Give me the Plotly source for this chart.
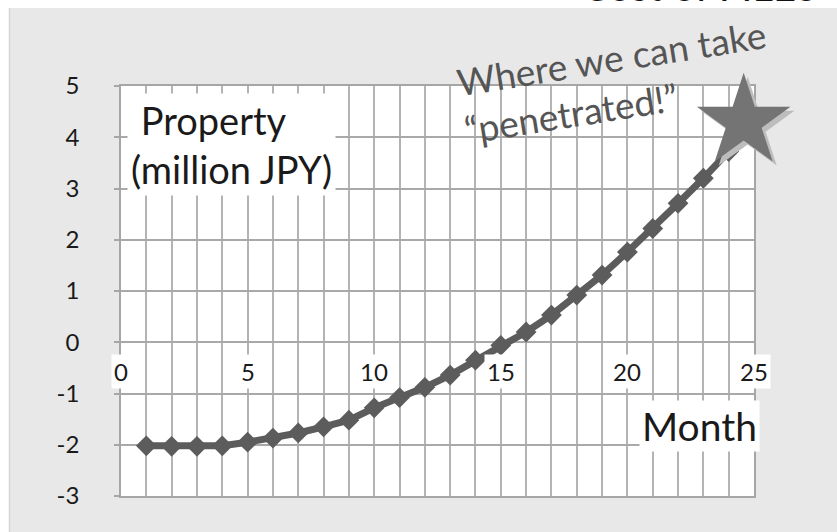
import plotly.graph_objects as go

months = list(range(1, 25))
property_mjpy = [-2.02, -2.03, -2.03, -2.02, -1.95, -1.87, -1.77, -1.65, -1.52, -1.28,
                 -1.08, -0.88, -0.64, -0.35, -0.06, 0.20, 0.53, 0.92, 1.31, 1.76,
                 2.22, 2.71, 3.20, 3.72]
x_tick_vals = [0, 5, 10, 15, 20, 25]
y_tick_vals = [-3, -2, -1, 0, 1, 2, 3, 4, 5]
y_tick_text = ["-3", "-2", "-1", "0", "1", "2", "3", "4", "5"]

FONT = "Lato"
W, H = 837, 532
L, R, T, B = 121, 83, 86, 36
pw, ph = W - L - R, H - T - B


def px_x(p):
    return (p - L) / pw


def px_y(p):
    return (H - B - p) / ph


fig = go.Figure()
fig.add_trace(go.Scatter(
    x=months, y=property_mjpy, mode="lines+markers",
    line=dict(color="#5c5c5c", width=7),
    marker=dict(symbol="diamond", size=16, color="#5c5c5c"),
    showlegend=False, cliponaxis=False, hoverinfo="skip",
))

annotations = []
for v in x_tick_vals:
    annotations.append(dict(
        x=v, y=0, xref="x", yref="y", text=str(v), showarrow=False,
        yshift=-29, font=dict(family=FONT, size=24, color="#1a1a1a"),
        bgcolor="white", borderpad=2,
    ))

annotations += [
    dict(x=px_x(127), y=px_y(93), xref="paper", yref="paper",
         xanchor="left", yanchor="top", align="left",
         text="&nbsp;Property<br>(million JPY)", showarrow=False,
         font=dict(family=FONT, size=38, color="#1a1a1a"),
         bgcolor="white", borderpad=3),
    dict(x=px_x(639), y=px_y(400), xref="paper", yref="paper",
         xanchor="left", yanchor="top", text="Month", showarrow=False,
         font=dict(family=FONT, size=39, color="#1a1a1a"),
         bgcolor="white", borderpad=2),
    dict(x=px_x(615), y=px_y(81), xref="paper", yref="paper",
         xanchor="center", yanchor="middle", align="left", textangle=-9,
         text="Where we can take<br>\u201cpenetrated!\u201d", showarrow=False,
         font=dict(family=FONT, size=37, color="#555555")),
    dict(x=months[-1], y=property_mjpy[-1], xref="x", yref="y",
         text="\u2605", showarrow=False, xshift=19, yshift=29,
         font=dict(family="DejaVu Sans", size=122, color="#bdbdbd")),
    dict(x=months[-1], y=property_mjpy[-1], xref="x", yref="y",
         text="\u2605", showarrow=False, xshift=15, yshift=33,
         font=dict(family="DejaVu Sans", size=122, color="#747474")),
    dict(x=px_x(700), y=px_y(11.5), xref="paper", yref="paper",
         xanchor="center", yanchor="bottom", text="Cost of FILES", showarrow=False,
         font=dict(family=FONT, size=40, color="#111111")),
]

shapes = [
    dict(type="rect", xref="paper", yref="paper", x0=-0.5, x1=1.5,
         y0=px_y(8), y1=1.5, fillcolor="white", line=dict(width=0), layer="below"),
    dict(type="rect", xref="paper", yref="paper", x0=-0.5, x1=px_x(9),
         y0=-0.5, y1=1.5, fillcolor="white", line=dict(width=0), layer="below"),
    dict(type="line", xref="paper", yref="paper", x0=px_x(9.5), x1=px_x(9.5),
         y0=-0.5, y1=px_y(8), line=dict(color="#d6d6d6", width=1.5), layer="below"),
]

fig.update_layout(
    width=W, height=H,
    margin=dict(l=L, r=R, t=T, b=B),
    paper_bgcolor="#e8e8e8", plot_bgcolor="white",
    annotations=annotations, shapes=shapes,
    font=dict(family=FONT, color="#1a1a1a"),
)
fig.update_xaxes(
    range=[0, 25], dtick=1, showticklabels=False, ticks="",
    showgrid=True, gridcolor="#b4b4b4", gridwidth=1.6,
    showline=True, linecolor="#a6a6a6", linewidth=1.6, mirror=True,
    zeroline=False, fixedrange=True,
)
fig.update_yaxes(
    range=[-3, 5], tickvals=y_tick_vals, ticktext=y_tick_text,
    ticks="outside", ticklen=5, tickcolor="#a6a6a6", tickwidth=1.5,
    tickfont=dict(family=FONT, size=24, color="#1a1a1a"), ticklabelstandoff=30,
    showgrid=True, gridcolor="#a9a9a9", gridwidth=1.6,
    showline=True, linecolor="#a6a6a6", linewidth=1.6, mirror=True,
    zeroline=False, fixedrange=True,
)

fig.write_html("out.html")
